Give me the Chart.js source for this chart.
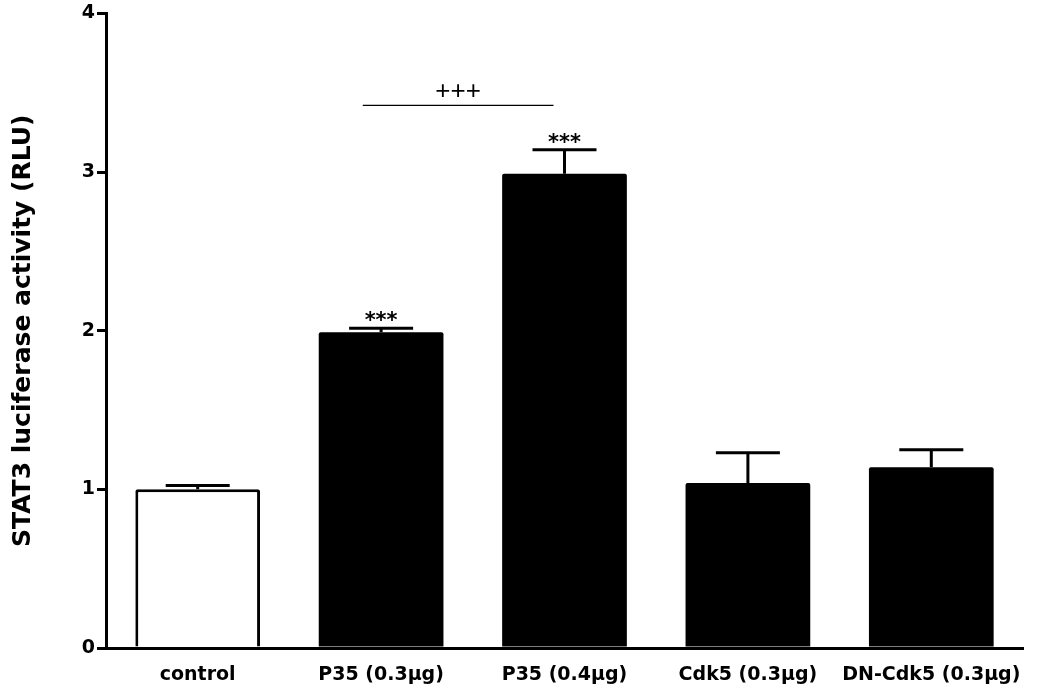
<!DOCTYPE html>
<html>
<head>
<meta charset="utf-8">
<script src="https://cdn.jsdelivr.net/npm/chart.js@4.4.1/dist/chart.umd.min.js"></script>
<style>
  html, body { margin: 0; padding: 0; background: #fff; }
  #wrap { width: 1050px; height: 697px; }
</style>
</head>
<body>
<div id="wrap"><canvas id="chart" width="1050" height="697"></canvas></div>
<script>
// values
const categories = ['control', 'P35 (0.3\u03bcg)', 'P35 (0.4\u03bcg)', 'Cdk5 (0.3\u03bcg)', 'DN-Cdk5 (0.3\u03bcg)'];
const means = [1.00, 1.99, 2.99, 1.04, 1.14];
const sem = [0.025, 0.025, 0.15, 0.19, 0.11];
const stars = ['', '***', '***', '', ''];
const fills = ['#ffffff', '#000000', '#000000', '#000000', '#000000'];
const borders = [3, 0, 0, 0, 0];
const yTicks = [0, 1, 2, 3, 4];

// bracket between the two P35 groups
const bracket = { from: 0.9, to: 1.94, y: 3.42, label: '+++' };

const BOLD = '"DejaVu Sans", sans-serif';
const PLAIN = '"Liberation Sans", Arial, sans-serif';

// error bars + significance marks
const annot = {
  id: 'annot',
  afterDatasetsDraw(chart) {
    const ctx = chart.ctx;
    const x = chart.scales.x, y = chart.scales.y;
    ctx.save();
    ctx.strokeStyle = '#000';
    ctx.fillStyle = '#000';
    ctx.lineWidth = 3;
    means.forEach((m, i) => {
      const cx = x.getPixelForValue(i);
      const top = y.getPixelForValue(m);
      const cap = y.getPixelForValue(m + sem[i]);
      ctx.beginPath();
      ctx.moveTo(cx, top);
      ctx.lineTo(cx, cap);
      ctx.moveTo(cx - 32, cap);
      ctx.lineTo(cx + 32, cap);
      ctx.stroke();
      if (stars[i]) {
        ctx.font = 'bold 21px ' + BOLD;
        ctx.textAlign = 'center';
        ctx.textBaseline = 'alphabetic';
        ctx.fillText(stars[i], cx, cap - 1);
      }
    });
    // bracket line
    const bx1 = x.getPixelForValue(bracket.from);
    const bx2 = x.getPixelForValue(bracket.to);
    const by = y.getPixelForValue(bracket.y);
    ctx.lineWidth = 1.2;
    ctx.beginPath();
    ctx.moveTo(bx1, by);
    ctx.lineTo(bx2, by);
    ctx.stroke();
    ctx.font = '26px ' + PLAIN;
    ctx.textAlign = 'center';
    ctx.textBaseline = 'middle';
    ctx.fillText(bracket.label, (bx1 + bx2) / 2, by - 14);
    ctx.restore();
  }
};

new Chart(document.getElementById('chart'), {
  type: 'bar',
  data: {
    labels: categories,
    datasets: [{
      data: means,
      backgroundColor: fills,
      borderColor: '#000',
      borderWidth: borders,
      borderRadius: 2,
      borderSkipped: 'bottom',
      barPercentage: 0.68,
      categoryPercentage: 1.0
    }]
  },
  options: {
    responsive: false,
    animation: false,
    layout: { padding: { top: 13, right: 27, left: 0, bottom: 0 } },
    plugins: { legend: { display: false }, tooltip: { enabled: false } },
    scales: {
      x: {
        grid: { display: false },
        border: { display: true, color: '#000', width: 3 },
        ticks: {
          color: '#000', font: { family: BOLD, size: 19, weight: 'bold' },
          padding: 8, maxRotation: 0, minRotation: 0, autoSkip: false
        },
        afterFit(scale) { scale.height = 49; }
      },
      y: {
        min: 0, max: 4,
        afterBuildTicks(scale) { scale.ticks = yTicks.map(v => ({ value: v })); },
        grid: { drawOnChartArea: false, drawTicks: true, tickLength: 9, color: '#000', lineWidth: 3 },
        border: { display: true, color: '#000', width: 3 },
        ticks: { color: '#000', font: { family: BOLD, size: 19, weight: 'bold' }, padding: 2 },
        title: {
          display: true,
          text: 'STAT3 luciferase activity (RLU)',
          color: '#000',
          font: { family: BOLD, size: 25, weight: 'bold' },
          padding: { top: 8, bottom: 0 }
        },
        afterFit(scale) { scale.width = 106; }
      }
    }
  },
  plugins: [annot]
});
</script>
</body>
</html>
